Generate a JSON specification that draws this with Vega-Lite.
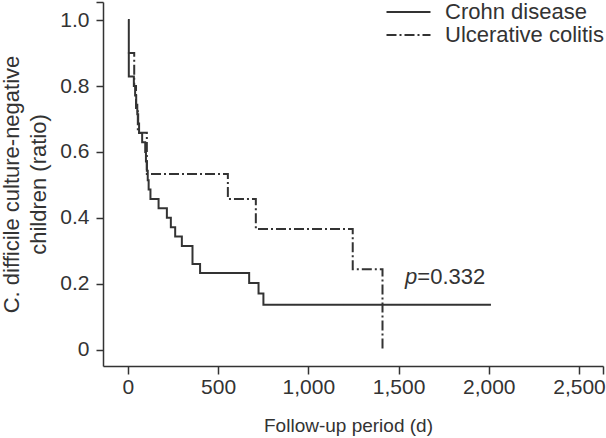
{
  "$schema": "https://vega.github.io/schema/vega-lite/v6.json",
  "width": 500,
  "height": 364,
  "autosize": {"type": "none"},
  "padding": {"left": 103, "top": 2, "right": 3, "bottom": 72},
  "background": "white",
  "config": {
    "view": {"stroke": null},
    "font": "Liberation Sans",
    "axis": {
      "grid": false,
      "domainColor": "#333333",
      "domainWidth": 1.5,
      "tickColor": "#333333",
      "tickWidth": 1.5,
      "labelColor": "#333333",
      "titleColor": "#333333",
      "labelFontSize": 21,
      "titleFontSize": 19,
      "titleFontWeight": "normal",
      "labelFont": "Liberation Sans",
      "titleFont": "Liberation Sans"
    }
  },
  "datasets": {
    "km": [
      {"group": "Crohn disease", "days": 0, "ratio": 1.0},
      {"group": "Crohn disease", "days": 5, "ratio": 0.829},
      {"group": "Crohn disease", "days": 33, "ratio": 0.8},
      {"group": "Crohn disease", "days": 40, "ratio": 0.771},
      {"group": "Crohn disease", "days": 46, "ratio": 0.743},
      {"group": "Crohn disease", "days": 52, "ratio": 0.714},
      {"group": "Crohn disease", "days": 57, "ratio": 0.686},
      {"group": "Crohn disease", "days": 62, "ratio": 0.657},
      {"group": "Crohn disease", "days": 79, "ratio": 0.629},
      {"group": "Crohn disease", "days": 96, "ratio": 0.6},
      {"group": "Crohn disease", "days": 100, "ratio": 0.571},
      {"group": "Crohn disease", "days": 105, "ratio": 0.543},
      {"group": "Crohn disease", "days": 110, "ratio": 0.514},
      {"group": "Crohn disease", "days": 115, "ratio": 0.486},
      {"group": "Crohn disease", "days": 125, "ratio": 0.457},
      {"group": "Crohn disease", "days": 170, "ratio": 0.429},
      {"group": "Crohn disease", "days": 216, "ratio": 0.4},
      {"group": "Crohn disease", "days": 238, "ratio": 0.371},
      {"group": "Crohn disease", "days": 262, "ratio": 0.343},
      {"group": "Crohn disease", "days": 299, "ratio": 0.314},
      {"group": "Crohn disease", "days": 358, "ratio": 0.26},
      {"group": "Crohn disease", "days": 400, "ratio": 0.232},
      {"group": "Crohn disease", "days": 672, "ratio": 0.202},
      {"group": "Crohn disease", "days": 724, "ratio": 0.17},
      {"group": "Crohn disease", "days": 751, "ratio": 0.136},
      {"group": "Crohn disease", "days": 2012, "ratio": 0.136},
      {"group": "Ulcerative colitis", "days": 0, "ratio": 0.9},
      {"group": "Ulcerative colitis", "days": 35, "ratio": 0.8},
      {"group": "Ulcerative colitis", "days": 45, "ratio": 0.733},
      {"group": "Ulcerative colitis", "days": 55, "ratio": 0.658},
      {"group": "Ulcerative colitis", "days": 105, "ratio": 0.533},
      {"group": "Ulcerative colitis", "days": 554, "ratio": 0.457},
      {"group": "Ulcerative colitis", "days": 709, "ratio": 0.366},
      {"group": "Ulcerative colitis", "days": 1246, "ratio": 0.244},
      {"group": "Ulcerative colitis", "days": 1411, "ratio": 0.0}
    ],
    "ann": [
      {"part": "p", "days": 1536, "ratio": 0.221},
      {"part": "=0.332", "days": 1604, "ratio": 0.221}
    ]
  },
  "encoding": {
    "x": {
      "field": "days",
      "type": "quantitative",
      "scale": {"domain": [-138, 2633], "nice": false, "zero": false},
      "axis": {
        "title": "Follow-up period (d)",
        "titleX": 245,
        "values": [0, 500, 1000, 1500, 2000, 2500, 2633],
        "labelExpr": "datum.value > 2600 ? '' : format(datum.value, ',')",
        "tickSize": 8,
        "labelPadding": 2,
        "titlePadding": 19,
        "labelFlush": false,
        "labelOverlap": false
      }
    },
    "y": {
      "field": "ratio",
      "type": "quantitative",
      "scale": {"domain": [-0.05, 1.055], "nice": false, "zero": false},
      "axis": {
        "title": ["C. difficile culture-negative", "children (ratio)"],
        "titleFontSize": 22,
        "titleLineHeight": 27,
        "values": [0, 0.2, 0.4, 0.6, 0.8, 1.0, 1.055],
        "labelExpr": "datum.value > 1.01 ? '' : (datum.value == 0 ? '0' : format(datum.value, '.1f'))",
        "tickSize": 7,
        "labelPadding": 7,
        "titlePadding": 9,
        "labelFlush": false,
        "labelOverlap": false
      }
    }
  },
  "layer": [
    {
      "data": {"name": "km"},
      "mark": {"type": "line", "interpolate": "step-after", "color": "#333333", "strokeWidth": 2},
      "encoding": {
        "strokeDash": {
          "field": "group",
          "type": "nominal",
          "scale": {"domain": ["Crohn disease", "Ulcerative colitis"], "range": [[1, 0], [10, 3, 2, 3]]},
          "legend": {
            "orient": "none",
            "legendX": 294.5,
            "legendY": -1,
            "title": null,
            "padding": 0,
            "symbolType": "M-4,0H4",
            "symbolSize": 121,
            "symbolStrokeWidth": 2,
            "symbolStrokeColor": "#333333",
            "labelFontSize": 22,
            "labelColor": "#333333",
            "labelFont": "Liberation Sans",
            "labelOffset": 25.5,
            "labelLimit": 300,
            "rowPadding": 1
          }
        }
      }
    },
    {
      "data": {"name": "ann"},
      "transform": [{"filter": "datum.part == 'p'"}],
      "mark": {"type": "text", "align": "left", "baseline": "middle", "fontSize": 22, "fontStyle": "italic", "color": "#333333", "font": "Liberation Sans"},
      "encoding": {"text": {"field": "part"}}
    },
    {
      "data": {"name": "ann"},
      "transform": [{"filter": "datum.part != 'p'"}],
      "mark": {"type": "text", "align": "left", "baseline": "middle", "fontSize": 22, "color": "#333333", "font": "Liberation Sans"},
      "encoding": {"text": {"field": "part"}}
    }
  ]
}
